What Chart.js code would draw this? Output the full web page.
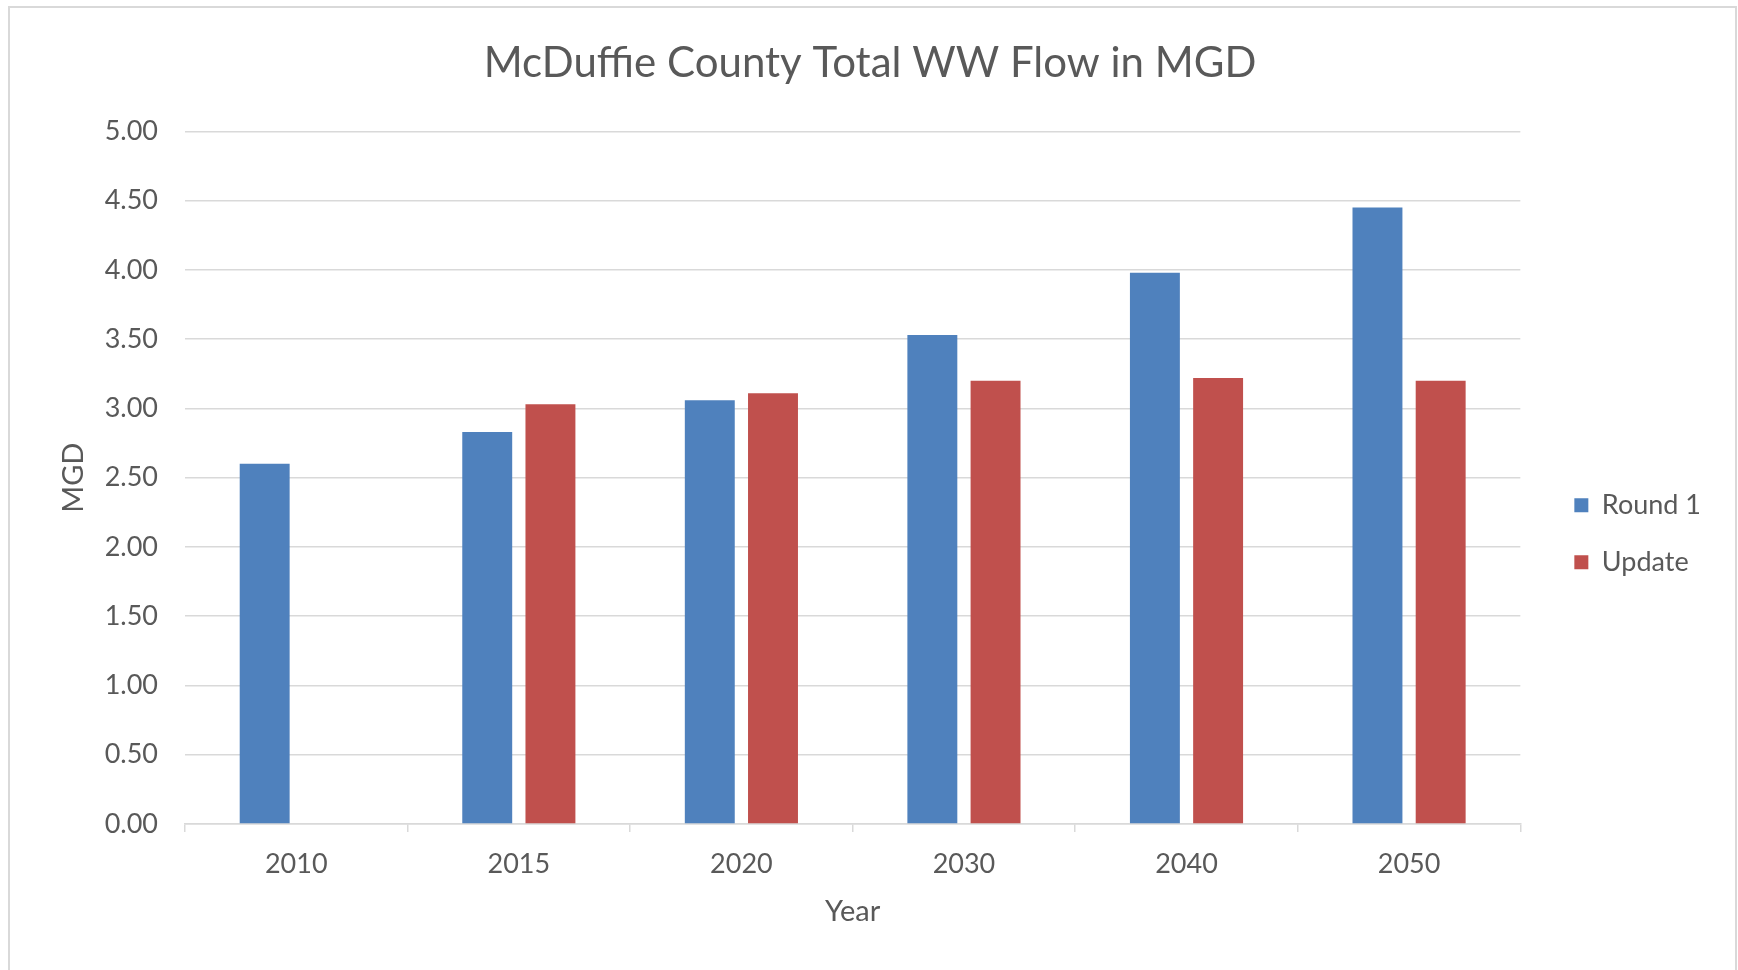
<!DOCTYPE html>
<html>
<head>
<meta charset="utf-8">
<title>McDuffie County Total WW Flow in MGD</title>
<script src="https://cdn.jsdelivr.net/npm/chart.js@4/dist/chart.umd.min.js"></script>
<style>
  body { margin: 0; background: #fff; overflow: hidden; }
  #frame {
    position: absolute; left: 8px; top: 6px; width: 1729px; height: 1000px;
    box-sizing: border-box; border: 2px solid #d9d9d9; border-bottom: none;
  }
  #wrap { position: absolute; left: 0; top: 0; width: 1738px; height: 970px; }
</style>
</head>
<body>
<div id="frame"></div>
<div id="wrap"><canvas id="myChart" width="1738" height="970"></canvas></div>
<script>
const years = ["2010", "2015", "2020", "2030", "2040", "2050"];
const round1 = [2.60, 2.83, 3.06, 3.53, 3.98, 4.45];
const update = [null, 3.03, 3.11, 3.20, 3.22, 3.20];
const yTicks = [0, 0.5, 1, 1.5, 2, 2.5, 3, 3.5, 4, 4.5, 5];

window.onload = function graph() {
  const textColor = "#595959";
  const gridColor = "#d9d9d9";
  const fontFamily = "Lato, 'Open Sans', sans-serif";

  const ctx = document.getElementById("myChart").getContext("2d");
  const myChart = new Chart(ctx, {
    type: "bar",
    data: {
      labels: years,
      datasets: [
        {
          label: "Round 1",
          data: round1,
          backgroundColor: "#4f81bd",
          categoryPercentage: 0.568,
          barPercentage: 0.79,
        },
        {
          label: "Update",
          data: update,
          backgroundColor: "#c0504d",
          categoryPercentage: 0.568,
          barPercentage: 0.79,
        },
      ],
    },
    options: {
      responsive: false,
      animation: false,
      devicePixelRatio: 1,
      layout: {
        padding: { left: 29, right: 27, top: 0, bottom: 0 },
      },
      plugins: {
        title: {
          display: true,
          text: "McDuffie County Total WW Flow in MGD",
          color: textColor,
          font: { family: fontFamily, size: 42, weight: "normal" },
          padding: { top: 38, bottom: 43 },
        },
        legend: {
          position: "right",
          title: { display: true, text: "", padding: { top: 83, bottom: 0 } },
          labels: {
            color: textColor,
            font: { family: fontFamily, size: 27 },
            boxWidth: 14,
            boxHeight: 14,
            padding: 30,
          },
        },
        tooltip: { enabled: false },
      },
      scales: {
        x: {
          grid: {
            display: true,
            drawOnChartArea: false,
            drawTicks: true,
            tickLength: 8,
            color: gridColor,
            lineWidth: 1.5,
          },
          border: { display: true, color: gridColor, width: 1.5 },
          ticks: {
            color: textColor,
            font: { family: fontFamily, size: 27 },
            padding: 16,
          },
          title: {
            display: true,
            text: "Year",
            color: textColor,
            font: { family: fontFamily, size: 29 },
            padding: { top: 0, bottom: 41 },
          },
          afterFit: function (s) {
            s.height = 146;
          },
        },
        y: {
          min: 0,
          max: 5,
          afterBuildTicks: function (s) {
            s.ticks = yTicks.map((v) => ({ value: v }));
          },
          grid: { color: gridColor, lineWidth: 1.5, drawTicks: false },
          border: { display: false },
          ticks: {
            color: textColor,
            font: { family: fontFamily, size: 27 },
            padding: 27,
            callback: (v) => Number(v).toFixed(2),
          },
          title: {
            display: true,
            text: "MGD",
            color: textColor,
            font: { family: fontFamily, size: 29 },
            padding: { top: 27, bottom: 0 },
          },
          afterFit: function (s) {
            s.width = 156;
          },
        },
        // empty axis, only keeps a gap between plot and legend
        spacer: {
          type: "linear",
          position: "right",
          display: true,
          grid: { display: false },
          border: { display: false },
          ticks: { display: false },
          afterFit: function (s) {
            s.width = 24;
          },
        },
      },
    },
  });
};
</script>
</body>
</html>
